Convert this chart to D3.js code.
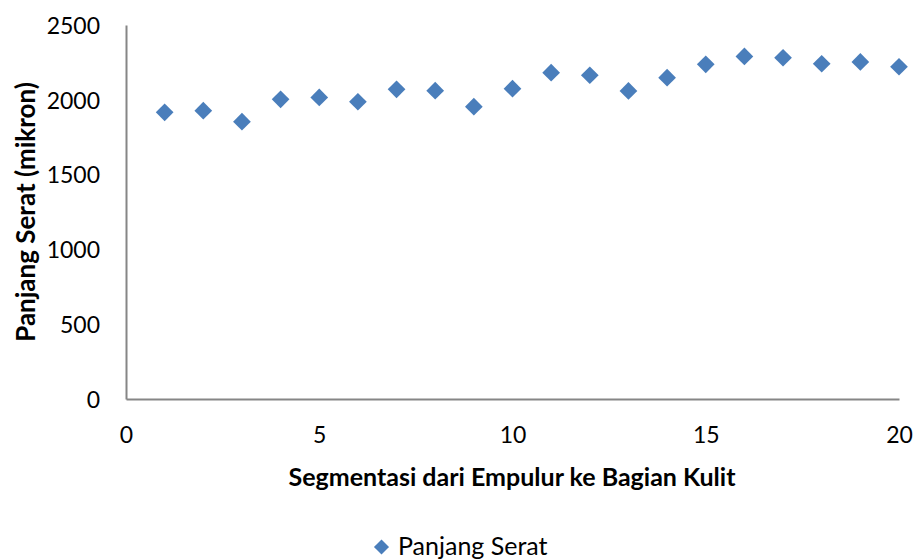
<!DOCTYPE html>
<meta charset="utf-8">
<script src="https://d3js.org/d3.v7.min.js"></script>
<style>
  body { margin: 0; background: #fff; }
  text { font-family: Lato, "Open Sans", sans-serif; fill: #000; }
</style>
<div id="my_dataviz"></div>
<script>

// data
var segments = [1, 2, 3, 4, 5, 6, 7, 8, 9, 10, 11, 12, 13, 14, 15, 16, 17, 18, 19, 20];
var panjangSerat = [1916, 1927, 1854, 2003, 2016, 1987, 2070, 2061, 1954, 2074,
                    2181, 2164, 2059, 2148, 2237, 2290, 2281, 2241, 2253, 2221];
var xTicks = [0, 5, 10, 15, 20];
var yTicks = [0, 500, 1000, 1500, 2000, 2500];
var seriesName = "Panjang Serat";

// plot area
var margin = {top: 25, right: 16, bottom: 161, left: 126},
    width = 915 - margin.left - margin.right,
    height = 560 - margin.top - margin.bottom;

var x = d3.scaleLinear().domain([0, 20]).range([0, width]);
var y = d3.scaleLinear().domain([0, 2500]).range([height, 0]);

var svg = d3.select("#my_dataviz").append("svg")
    .attr("width", 915)
    .attr("height", 560);

var g = svg.append("g")
    .attr("transform", "translate(" + margin.left + "," + margin.top + ")");

// x axis
var xa = g.append("g")
    .attr("transform", "translate(0," + height + ")")
    .call(d3.axisBottom(x).tickValues(xTicks).tickFormat(d3.format("d")).tickSize(0));
xa.selectAll("text").style("font-size", "23px").attr("y", 44).attr("dy", 0);

// y axis
var ya = g.append("g")
    .call(d3.axisLeft(y).tickValues(yTicks).tickFormat(d3.format("d")).tickSize(0).tickPadding(26));
ya.selectAll("text").style("font-size", "23px").attr("dy", "0.36em");

g.selectAll(".domain").attr("stroke", "#868686").attr("stroke-width", 2);

// diamonds
var diamond = d3.symbol().type(d3.symbolDiamond2).size(200);
g.selectAll("path.pt")
  .data(segments)
  .enter().append("path")
    .attr("class", "pt")
    .attr("d", diamond)
    .attr("transform", function(d, i) {
      return "translate(" + x(d) + "," + y(panjangSerat[i]) + ")";
    })
    .attr("fill", "#4a7ebb");

// axis titles
svg.append("text")
  .attr("x", 512)
  .attr("y", 486)
  .attr("font-size", "25px")
  .attr("font-weight", "bold")
  .style("text-anchor", "middle")
  .text("Segmentasi dari Empulur ke Bagian Kulit");

svg.append("text")
  .attr("transform", "translate(35," + (margin.top + height / 2) + ") rotate(-90)")
  .attr("font-size", "26px")
  .attr("font-weight", "bold")
  .style("text-anchor", "middle")
  .text("Panjang Serat (mikron)");

// legend
svg.append("path")
  .attr("d", d3.symbol().type(d3.symbolDiamond2).size(145))
  .attr("transform", "translate(381.5,547)")
  .attr("fill", "#4a7ebb");
svg.append("text")
  .attr("x", 398)
  .attr("y", 555)
  .attr("font-size", "25px")
  .text(seriesName);

</script>
